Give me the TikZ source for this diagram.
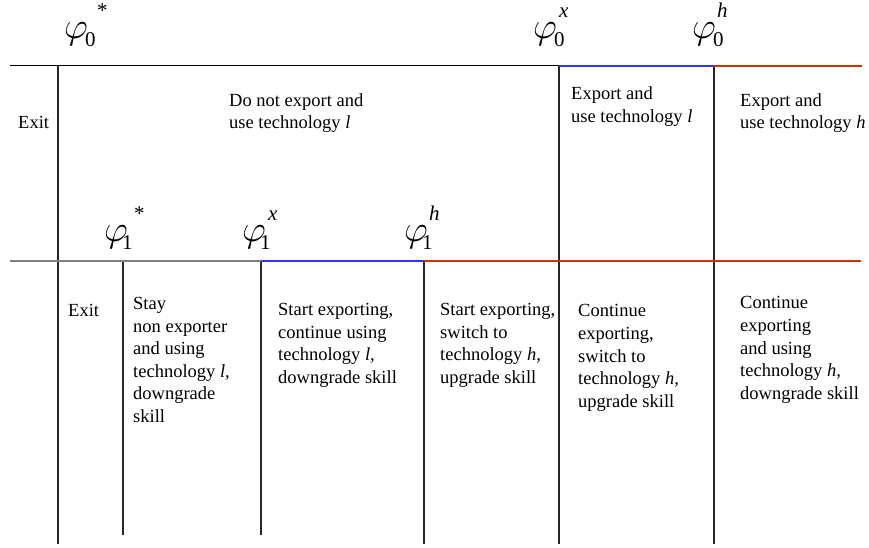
\RequirePackage{fix-cm}
\documentclass[tikz,border=0pt]{standalone}
\usepackage{fontspec}
\setmainfont{Liberation Serif}
\definecolor{lblue}{RGB}{51,51,255}
\definecolor{lred}{RGB}{204,51,0}
\tikzset{
  vline/.style={line width=1.3pt, black!85},
  topline/.style={line width=1pt, black},
  greyline/.style={line width=1.8pt, black!50},
  blueline/.style={line width=2.6pt, lblue},
  redline/.style={line width=2.6pt, lred},
  txt/.style={anchor=north west, inner sep=0pt, align=left, font=\fontsize{18.5}{22.6}\selectfont},
  phil/.style={anchor=base west, inner sep=0pt},
}
% #1 subscript, #2 its offset, #3 superscript, #4 its offset
\newcommand\philab[4]{\rlap{\fontsize{37}{37}\selectfont$\varphi$}\rlap{\kern#2\raisebox{-8pt}{\fontsize{21}{21}\selectfont #1}}\kern#4\raisebox{21pt}{\fontsize{21}{21}\selectfont #3}}
\begin{document}
\begin{tikzpicture}[x=1pt,y=-1pt]
\useasboundingbox (0,0) rectangle (869,548);
% coordinates
\coordinate (tL) at (10,66);
\coordinate (tA) at (58,66);
\coordinate (tX) at (559,66);
\coordinate (tH) at (714,66);
\coordinate (tR) at (862,66);
\coordinate (bL) at (10,261);
\coordinate (bS) at (123,261);
\coordinate (bX) at (261,261);
\coordinate (bH) at (424,261);
\coordinate (bR) at (861,261);
\coordinate (eA) at (58,544);
\coordinate (eS) at (123,535);
\coordinate (eX) at (261,535);
\coordinate (eH) at (424,544);
\coordinate (eX0) at (559,544);
\coordinate (eH0) at (714,544);
% vertical separators
\draw[vline] (tA) -- (eA);
\draw[vline] (tX) -- (eX0);
\draw[vline] (tH) -- (eH0);
\draw[vline] (bS) -- (eS);
\draw[vline] (bX) -- (eX);
\draw[vline] (bH) -- (eH);
% horizontal axes
\draw[topline] (tL) -- (tX);
\draw[blueline] (tX) -- (tH);
\draw[redline] (tH) -- (tR);
\draw[greyline] (bL) -- (bX);
\draw[blueline] (bX) -- (bH);
\draw[redline] (bH) -- (bR);
% threshold labels
\node[phil] (p0s) at (64,39) {\philab{0}{21pt}{*}{33pt}};
\node[phil] (p0x) at (533,39) {\philab{0}{21pt}{\textit{x}}{26pt}};
\node[phil] (p0h) at (692,39) {\philab{0}{21pt}{\textit{h}}{25pt}};
\node[phil] (p1s) at (104,241) {\philab{1}{18pt}{*}{30pt}};
\node[phil] (p1x) at (242,241) {\philab{1}{18pt}{\textit{x}}{26pt}};
\node[phil] (p1h) at (404,241) {\philab{1}{18pt}{\textit{h}}{25pt}};
% period 0 texts
\node[txt] (t0a) at (18,116.5) {Exit};
\node[txt] (t0b) at (229,93) {Do not export and\\use technology \textit{l}};
\node[txt] (t0c) at (571,86.5) {Export and\\use technology \textit{l}};
\node[txt] (t0d) at (740,93) {Export and\\use technology \textit{h}};
% period 1 texts
\node[txt] (t1a) at (68,304.5) {Exit};
\node[txt] (t1b) at (133,297) {Stay\\non exporter\\and using\\technology \textit{l,}\\downgrade\\skill};
\node[txt] (t1c) at (278,303) {Start exporting,\\continue using\\technology \textit{l,}\\downgrade skill};
\node[txt] (t1d) at (440,303) {Start exporting,\\switch to\\technology \textit{h,}\\upgrade skill};
\node[txt] (t1e) at (578,304.5) {Continue\\exporting,\\switch to\\technology \textit{h,}\\upgrade skill};
\node[txt] (t1f) at (740,296.5) {Continue\\exporting\\and using\\technology \textit{h,}\\downgrade skill};
\end{tikzpicture}
\end{document}
